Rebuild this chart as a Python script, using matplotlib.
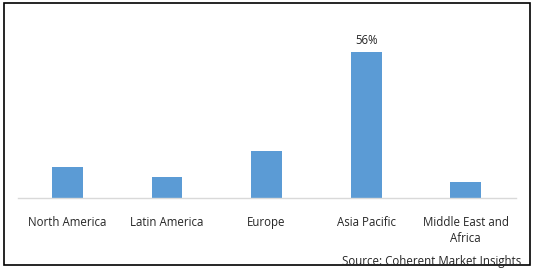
import matplotlib
matplotlib.use("Agg")
import matplotlib.pyplot as plt
from matplotlib.patches import Rectangle

categories = ["North America", "Latin America", "Europe", "Asia Pacific", "Middle East and\nAfrica"]
shares = [12, 8, 18, 56, 6]
labeled_index = 3
source_text = "Source: Coherent Market Insights"

W, H = 535, 270
fig = plt.figure(figsize=(W / 100, H / 100), dpi=100)
plt.rcParams['font.family'] = ['Open Sans', 'DejaVu Sans']
FS = 8.3
TC = "#262626"

ax = fig.add_axes([17.7 / W, (H - 198) / H, (515.5 - 17.7) / W, 178 / H])
x = list(range(len(categories)))
ax.bar(x, shares, width=0.31, color="#5b9bd5", zorder=2)
ax.set_xlim(-0.5, len(categories) - 0.5)
ax.set_ylim(0, 178 / (146 / 56))

for s in ["top", "right", "left"]:
    ax.spines[s].set_visible(False)
ax.spines["bottom"].set_color("#d9d9d9")
ax.spines["bottom"].set_linewidth(1.0)
ax.set_yticks([])
ax.set_xticks(x)
ax.set_xticklabels(categories, fontsize=FS, color=TC, linespacing=1.25)
ax.tick_params(axis="x", length=0, pad=13)

ax.annotate(f"{shares[labeled_index]}%", xy=(labeled_index, shares[labeled_index]),
            xytext=(0, 8.6), textcoords="offset points", ha="center", va="center",
            fontsize=FS, color=TC)

fig.text(521 / W, (H - 262) / H, source_text, ha="right", va="center",
         fontsize=FS, color=TC)

fig.patches.append(Rectangle((4 / W, (H - 265) / H), 526 / W, 262 / H,
                             transform=fig.transFigure, fill=False,
                             edgecolor="black", linewidth=1.2))

fig.savefig("out.png", dpi=100, facecolor="white")
